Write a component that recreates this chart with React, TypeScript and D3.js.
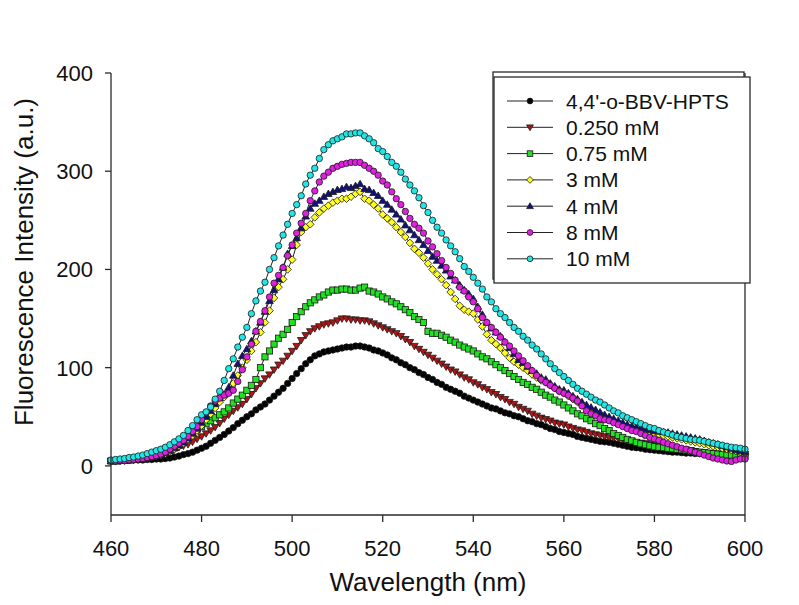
import React from "react";
import * as d3 from "d3";

const wavelengths: number[] = d3.range(460, 601, 1);

const seriesNames = ["4,4'-o-BBV-HPTS", "0.250 mM", "0.75 mM", "3 mM", "4 mM", "8 mM", "10 mM"];
const seriesColors = ["#000000", "#b01515", "#22e022", "#ffff20", "#101080", "#e020e0", "#20e6e6"];
const seriesShapes = ["circle", "triangleDown", "square", "diamond", "triangleUp", "circle", "circle"];

const bbvHpts = [
  5, 5, 5, 5.5, 5.5, 6, 6, 6, 6.5, 6.5,
  7, 7, 7.5, 8, 9, 10, 11.5, 12.5, 14, 16,
  18, 20, 23, 26, 29, 32, 35.5, 39, 43, 46.5,
  50, 53, 57, 60, 63, 67, 71, 75, 79, 84,
  89, 94, 99, 104, 108, 112, 114, 116, 117, 118,
  119, 120, 121, 121, 122, 122, 121, 120, 118, 117,
  115, 113, 110, 108, 105, 103, 100, 98, 95, 93,
  90, 88, 85, 83, 80, 78, 76, 74, 71, 69,
  67, 65, 63, 61, 59, 58, 56, 54, 53, 51,
  50, 48, 46, 45, 43, 42, 40, 38, 37, 35,
  34, 33, 32, 30, 29, 28, 27, 26, 25, 24.5,
  24, 23, 22, 21, 20, 19, 18.5, 18, 17, 16.5,
  16, 15.5, 15, 14.5, 14, 14, 13.5, 13, 13, 12.5,
  12.5, 12, 12, 11.5, 11.5, 11, 11, 11, 10.5, 10.5,
  10.5,
];

const mM0250 = [
  5, 5, 5.5, 5.5, 6, 6.5, 7, 7.5, 8.5, 9.5,
  11, 12, 13.5, 15.5, 17, 19, 20.5, 22, 24.5, 27.5,
  30, 33, 36, 39.5, 43.5, 48, 52, 56, 59.5, 63,
  68, 73, 79, 84, 89, 93, 98, 103, 107, 112,
  117, 122, 128, 133, 137, 140, 142, 144, 145, 146,
  148, 150, 150, 149, 149, 148, 148, 147, 145, 143,
  141, 139, 137, 135, 132, 129, 126, 122, 119, 116,
  113, 110, 107, 104, 101, 98, 96, 93, 90, 88,
  85, 83, 80, 78, 75, 73, 70, 68, 65, 63,
  60, 58, 56, 53, 51, 49, 47.5, 46, 44, 43,
  42, 40, 38.5, 37, 36, 34.5, 33, 32, 31, 30,
  29, 28.5, 28, 27, 26, 25, 24, 23.5, 23, 22,
  21, 20, 19.5, 19, 18, 17.5, 17, 16.5, 16, 15,
  14, 13.5, 13, 12.5, 12.5, 12, 12, 12, 12, 12,
  12,
];

const mM075 = [
  5, 5, 5.5, 5.5, 6, 6.5, 7, 7.5, 8.5, 9.5,
  11, 12.5, 14, 16, 18.5, 21, 25, 30, 34, 37,
  40, 43, 46, 49, 52, 55, 59, 64, 68, 72,
  77, 82, 88, 100, 111, 117, 124, 130, 134, 139,
  146, 152, 157, 162, 166, 169, 172, 174, 177, 179,
  179, 180, 180, 179, 179, 181, 182, 178, 177, 175,
  172, 170, 167, 165, 162, 159, 156, 152, 149, 146,
  137, 135, 135, 133, 131, 128, 126, 123, 121, 119,
  117, 114, 111, 109, 106, 103, 100, 97, 94, 91,
  88, 85, 83, 80, 78, 75, 72, 70, 67, 65,
  62, 59, 56, 53, 51, 48, 46, 43, 41, 38,
  36, 33, 31, 29, 27, 25.5, 24, 22.5, 21.5, 20.5,
  19.5, 19, 18.5, 18, 17.5, 17, 16.5, 16, 15, 14.5,
  14, 13.5, 13, 12.5, 12, 11.5, 11, 11, 10.5, 10.5,
  10,
];

const mM3 = [
  5, 5, 5.5, 5.5, 6, 6.5, 7, 7.5, 8, 9,
  10, 11, 12.5, 14.5, 17, 20, 23, 27, 31, 36,
  41, 47, 53, 59, 65, 70, 76, 84, 92, 100,
  108, 117, 126, 136, 146, 158, 171, 182, 190, 200,
  210, 225, 238, 243, 246, 253, 258, 262, 265, 268,
  270, 272, 272, 274, 277, 279, 272, 270, 266, 262,
  256, 252, 248, 243, 238, 233, 227, 221, 217, 212,
  206, 200, 195, 190, 184, 177, 170, 163, 159, 157,
  155, 149, 142, 134, 128, 124, 120, 115, 110, 106,
  103, 100, 97, 93, 90, 87, 85, 82, 79, 76,
  74, 71, 68, 65, 62, 59, 57, 54, 52, 50,
  48, 46, 44, 42, 40, 38.5, 37, 36, 35, 34,
  33, 32, 31, 30, 29, 28, 27, 26, 25, 24,
  23, 22, 21, 20, 19, 18, 17, 16, 15, 14,
  13,
];

const mM4 = [
  5, 5, 5.5, 5.5, 6, 6.5, 7, 7.5, 8, 9,
  10, 11.5, 13, 15.5, 18, 21, 24, 28, 33, 38,
  44, 50, 56, 63, 69, 73, 80, 92, 104, 112,
  119, 127, 137, 146, 157, 168, 179, 190, 202, 216,
  224, 232, 242, 254, 262, 267, 270, 274, 277, 279,
  281, 282, 284, 283, 285, 287, 282, 281, 278, 275,
  270, 266, 261, 256, 251, 245, 240, 235, 230, 225,
  219, 213, 209, 204, 199, 193, 189, 184, 179, 175,
  170, 162, 154, 146, 140, 136, 132, 126, 120, 114,
  108, 105, 101, 97, 94, 90, 88, 84, 81, 78,
  77, 74, 71, 68, 65, 62, 59.5, 57, 54.5, 52,
  50, 48, 46, 44, 42, 40.5, 39.5, 38.5, 37.5, 36.5,
  35.5, 35, 34.5, 34, 33, 32, 31, 30, 29, 28,
  27, 25.5, 24, 23, 22, 20.5, 19, 17.5, 16, 15,
  14,
];

const mM8 = [
  5, 5, 5.5, 5.5, 6, 6.5, 7, 7.5, 8.5, 9.5,
  10.5, 12, 14, 17, 20, 23, 26, 30, 35, 40,
  47, 54, 61, 66, 69, 72, 74, 77, 86, 98,
  111, 124, 137, 147, 158, 172, 186, 194, 202, 214,
  225, 237, 247, 257, 270, 280, 289, 295, 299, 303,
  305, 307, 308, 309, 309, 309, 306, 303, 300, 296,
  290, 286, 279, 272, 266, 259, 252, 246, 242, 237,
  229, 223, 216, 209, 202, 196, 189, 182, 178, 172,
  167, 160, 151, 146, 141, 136, 131, 126, 122, 117,
  112, 107, 102, 97, 92, 88, 85, 82, 79, 76,
  74, 72, 69, 66, 61, 56, 53, 51, 48, 47,
  46, 44, 42, 40, 38, 36, 35, 33, 31, 29,
  27.5, 26, 24, 22.5, 21, 19.5, 18, 17, 15.5, 14,
  12.5, 11, 9.5, 8, 7, 6, 5, 4.5, 6, 7,
  7,
];

const mM10 = [
  6, 6.5, 7, 7.5, 8.5, 9, 10, 11, 12.5, 14,
  15.5, 17, 19, 21.5, 24.5, 27.5, 31, 36, 41, 47,
  52, 55, 60, 68, 76, 87, 99, 109, 121, 131,
  141, 155, 168, 178, 187, 200, 212, 224, 235, 246,
  257, 266, 275, 287, 296, 303, 313, 322, 327, 331,
  333, 335, 338, 338, 339, 339, 336, 333, 329, 323,
  320, 315, 309, 305, 299, 292, 286, 280, 273, 265,
  258, 250, 243, 237, 230, 224, 218, 211, 203, 198,
  192, 186, 180, 172, 167, 160, 155, 151, 146, 141,
  137, 132, 128, 123, 119, 114, 109, 104, 99, 95,
  91, 87, 83, 79, 76, 73, 70, 67, 65, 62,
  59, 56, 54, 51, 49, 47, 45, 43, 41, 39,
  38, 36, 34.5, 33, 31.5, 30, 29, 28, 27, 26.5,
  26, 25, 24, 23, 22, 21, 20, 19, 18.5, 18,
  17,
];

const seriesValues = [bbvHpts, mM0250, mM075, mM3, mM4, mM8, mM10];

const xTicks = [460, 480, 500, 520, 540, 560, 580, 600];
const yTicks = [0, 100, 200, 300, 400];

const W = 799;
const H = 605;
const plot = { left: 111, right: 745, top: 73, bottom: 515 };
const FONT = "'Liberation Sans', Arial, Helvetica, sans-serif";
const AXIS = "#2a2a2a";

function Marker({ shape, x, y, fill, s = 1 }: { shape: string; x: number; y: number; fill: string; s?: number }) {
  const sw = 0.8;
  const st = "#1a1a1a";
  if (shape === "circle") return <circle cx={x} cy={y} r={3.2 * s} fill={fill} stroke={st} strokeWidth={sw} />;
  if (shape === "square") {
    const h = 3.1 * s;
    return <rect x={x - h} y={y - h} width={2 * h} height={2 * h} fill={fill} stroke={st} strokeWidth={sw} />;
  }
  if (shape === "diamond") {
    const h = 3.8 * s;
    return <path d={`M${x},${y - h}L${x + h},${y}L${x},${y + h}L${x - h},${y}Z`} fill={fill} stroke={st} strokeWidth={sw} />;
  }
  if (shape === "triangleUp") {
    const h = 3.8 * s;
    return <path d={`M${x},${y - h}L${x + h},${y + h * 0.7}L${x - h},${y + h * 0.7}Z`} fill={fill} stroke={st} strokeWidth={sw} />;
  }
  const h = 3.8 * s;
  return <path d={`M${x},${y + h}L${x + h},${y - h * 0.7}L${x - h},${y - h * 0.7}Z`} fill={fill} stroke={st} strokeWidth={sw} />;
}

export default function App() {
  const x = d3.scaleLinear().domain([460, 600]).range([plot.left, plot.right]);
  const y = d3.scaleLinear().domain([-50, 400]).range([plot.bottom, plot.top]);
  const line = d3
    .line<number>()
    .x((_, i) => x(wavelengths[i]))
    .y((d) => y(d));

  const legendX = 507;
  const legendY0 = 101;
  const legendDy = 26.3;

  return (
    <svg
      width={W}
      height={H}
      viewBox={`0 0 ${W} ${H}`}
      style={{ position: "absolute", left: 0, top: 0, background: "#fff" }}
      fontFamily={FONT}
    >
      <rect x={0} y={0} width={W} height={H} fill="#fff" />

      {seriesValues.map((vals, si) => (
        <g key={si}>
          <path d={line(vals) || ""} fill="none" stroke="#222" strokeWidth={1} />
          {vals.map((v, i) => (
            <Marker key={i} shape={seriesShapes[si]} x={x(wavelengths[i])} y={y(v)} fill={seriesColors[si]} />
          ))}
        </g>
      ))}

      <line x1={plot.left} x2={plot.left} y1={plot.top} y2={plot.bottom} stroke={AXIS} strokeWidth={1.3} />
      <line x1={plot.left} x2={plot.right} y1={plot.bottom} y2={plot.bottom} stroke={AXIS} strokeWidth={1.3} />
      <line x1={plot.right} x2={plot.right} y1={plot.top} y2={plot.bottom} stroke={AXIS} strokeWidth={1.3} />

      {yTicks.map((t) => (
        <g key={t}>
          <line x1={plot.left - 6} x2={plot.left} y1={y(t)} y2={y(t)} stroke={AXIS} strokeWidth={1.3} />
          <text x={93} y={y(t)} dy="0.36em" textAnchor="end" fontSize={22} fill="#111">
            {t}
          </text>
        </g>
      ))}
      {xTicks.map((t) => (
        <g key={t}>
          <line x1={x(t)} x2={x(t)} y1={plot.bottom} y2={plot.bottom + 7} stroke={AXIS} strokeWidth={1.3} />
          <text x={x(t)} y={556} textAnchor="middle" fontSize={22} fill="#111">
            {t}
          </text>
        </g>
      ))}

      <text x={(plot.left + plot.right) / 2} y={591} textAnchor="middle" fontSize={26} fill="#111">
        Wavelength (nm)
      </text>
      <text transform={`translate(33,262) rotate(-90)`} textAnchor="middle" fontSize={26} fill="#111">
        Fluorescence Intensity (a.u.)
      </text>

      <rect x={493} y={72} width={251} height={207} fill="#fff" stroke={AXIS} strokeWidth={1.3} />
      <rect x={494} y={77} width={256} height={206} fill="#fff" stroke={AXIS} strokeWidth={1.3} />
      {seriesNames.map((name, i) => {
        const ly = legendY0 + i * legendDy;
        return (
          <g key={name}>
            <line x1={legendX} x2={legendX + 46} y1={ly} y2={ly} stroke="#222" strokeWidth={1} />
            <Marker shape={seriesShapes[i]} x={legendX + 23} y={ly} fill={seriesColors[i]} s={0.9} />
            <text x={566} y={ly} dy="0.36em" fontSize={21} fill="#111">
              {name}
            </text>
          </g>
        );
      })}
    </svg>
  );
}
